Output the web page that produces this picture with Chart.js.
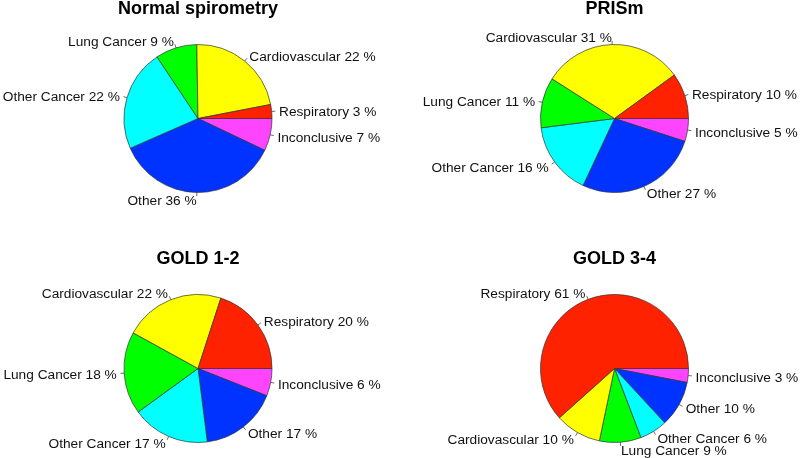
<!DOCTYPE html>
<html>
<head>
<meta charset="utf-8">
<script src="https://cdn.jsdelivr.net/npm/chart.js@4.4.1/dist/chart.umd.min.js"></script>
<style>
  body { margin: 0; background: #fff; }
  #wrap { position: relative; width: 800px; height: 458px; }
  #wrap canvas { position: absolute; left: 0; top: 0; }
</style>
</head>
<body>
<div id="wrap">
  <canvas id="c0" width="800" height="458"></canvas>
  <canvas id="c1" width="800" height="458"></canvas>
  <canvas id="c2" width="800" height="458"></canvas>
  <canvas id="c3" width="800" height="458"></canvas>
</div>
<script>
// causes of death, counterclockwise from 3 o'clock (like R's pie)
const categories = ['Respiratory', 'Cardiovascular', 'Lung Cancer', 'Other Cancer', 'Other', 'Inconclusive'];
const sliceColors = ['#ff2200', '#ffff00', '#00ff00', '#00ffff', '#0033ff', '#ff44ff'];

const titles = ['Normal spirometry', 'PRISm', 'GOLD 1-2', 'GOLD 3-4'];
const normalValues = [3, 22, 9, 22, 36, 7];
const prismValues = [10, 31, 11, 16, 27, 5];
const gold12Values = [20, 22, 18, 17, 17, 6];
const gold34Values = [61, 10, 9, 6, 10, 3];

const panelValues = [normalValues, prismValues, gold12Values, gold34Values];
// pie centres on the page
const centres = [[198, 118.5], [614.5, 118.5], [198, 368.5], [614.5, 368.5]];

const pieLabels = {
    id: 'pieLabels',
    afterDatasetsDraw(chart, args, opts) {
        const ctx = chart.ctx;
        const meta = chart.getDatasetMeta(0);
        const labels = chart.data.labels;
        const values = chart.data.datasets[0].data;
        let cx = 0, cy = 0, r = 0;
        ctx.save();
        meta.data.forEach((arc, i) => {
            const p = arc.getProps(['x', 'y', 'startAngle', 'endAngle', 'outerRadius'], true);
            cx = p.x; cy = p.y; r = p.outerRadius;
            const mid = (p.startAngle + p.endAngle) / 2;
            const c = Math.cos(mid), s = Math.sin(mid);
            ctx.strokeStyle = '#444';
            ctx.lineWidth = 0.8;
            ctx.beginPath();
            ctx.moveTo(cx + c * r, cy + s * r);
            ctx.lineTo(cx + c * r * 1.05, cy + s * r * 1.05);
            ctx.stroke();
            ctx.fillStyle = '#111';
            ctx.font = '13.7px "Liberation Sans", Arial, sans-serif';
            ctx.textAlign = c < 0 ? 'right' : 'left';
            ctx.textBaseline = 'middle';
            ctx.fillText(labels[i] + ' ' + values[i] + ' %', cx + c * r * 1.1, cy + s * r * 1.1 + 1.5);
        });
        ctx.fillStyle = '#000';
        ctx.font = 'bold 18px "Liberation Sans", Arial, sans-serif';
        ctx.textAlign = 'center';
        ctx.textBaseline = 'alphabetic';
        ctx.fillText(opts.title, cx, cy - 104.5);
        ctx.restore();
    }
};

function drawPie(canvas, values, title, centre) {
    // Chart.js draws clockwise, so reverse and start at 3 o'clock
    const order = values.map((v, i) => i).reverse();
    const [cx, cy] = centre;
    return new Chart(canvas, {
        type: 'pie',
        plugins: [pieLabels],
        data: {
            labels: order.map(i => categories[i]),
            datasets: [{
                data: order.map(i => values[i]),
                backgroundColor: order.map(i => sliceColors[i]),
                borderColor: '#333',
                borderWidth: 0.7
            }]
        },
        options: {
            responsive: false,
            animation: false,
            rotation: 90,
            radius: 74,
            layout: {
                padding: { left: cx - 80, right: 800 - cx - 80, top: cy - 80, bottom: 458 - cy - 80 }
            },
            plugins: {
                legend: { display: false },
                tooltip: { enabled: false },
                pieLabels: { title: title }
            }
        }
    });
}

panelValues.forEach((vals, k) => {
    drawPie(document.getElementById('c' + k), vals, titles[k], centres[k]);
});
</script>
</body>
</html>
